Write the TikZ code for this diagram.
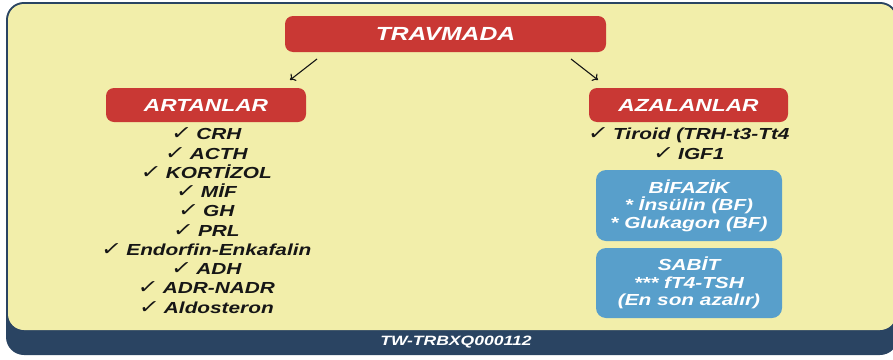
\documentclass[tikz,border=0pt]{standalone}
\usepackage{fontspec}
\setmainfont{Liberation Sans}[FakeStretch=1.3]
\newfontfamily\ckfont{DejaVu Sans}[FakeStretch=1.25,FakeSlant=0.15]
\usetikzlibrary{arrows.meta}
\definecolor{navy}{HTML}{2A4462}
\definecolor{bgyellow}{HTML}{F2EEAA}
\definecolor{hdred}{HTML}{C93834}
\definecolor{boxblue}{HTML}{589FCB}
\definecolor{txtblack}{HTML}{161616}
\newcommand\chk{{\ckfont\bfseries\fontsize{19}{19}\selectfont ✓}}
\begin{document}
\begin{tikzpicture}[x=1pt,y=-1pt,
  redbox/.style={fill=hdred, rounded corners=8pt, inner sep=0pt, text=white,
    font=\fontsize{17.5}{20}\selectfont\bfseries\itshape},
  bluebox/.style={fill=boxblue, rounded corners=10pt, inner sep=0pt, text=white,
    minimum width=186pt, minimum height=71pt, align=center,
    font=\fontsize{16}{17.6}\selectfont\bfseries\itshape},
  listtext/.style={text=txtblack, align=center, inner sep=0pt,
    font=\fontsize{16}{19.25}\selectfont\bfseries\itshape},
  arr/.style={draw=txtblack, line width=1.1pt, -{To[length=5pt,width=9pt]}}]
\useasboundingbox (0,0) rectangle (893,359);
% frame
\fill[navy, rounded corners=18pt] (6,2) rectangle (898,355);
\fill[bgyellow, rounded corners=16pt] (8,4) rectangle (896,330);
% headers
\node[redbox, minimum width=321pt, minimum height=36pt, font=\fontsize{19}{20}\selectfont\bfseries\itshape] (trav) at (445.5,34) {TRAVMADA};
\node[redbox, minimum width=200pt, minimum height=34pt] (art) at (206,105) {ARTANLAR};
\node[redbox, minimum width=199pt, minimum height=34pt] (aza) at (688.5,105) {AZALANLAR};
% arrows
\coordinate (a1s) at (317,59);
\coordinate (a1e) at (290,80);
\coordinate (a2s) at (571,59);
\coordinate (a2e) at (598,80);
\draw[arr] (a1s) -- (a1e);
\draw[arr] (a2s) -- (a2e);
% lists
\node[listtext] (artlist) at (206,220.5) {\chk\ CRH\\ \chk\ ACTH\\ \chk\ KORTİZOL\\ \chk\ MİF\\ \chk\ GH\\ \chk\ PRL\\ \chk\ Endorfin-Enkafalin\\ \chk\ ADH\\ \chk\ ADR-NADR\\ \chk\ Aldosteron};
\node[listtext] (azalist) at (688.5,143.5) {\chk\ Tiroid (TRH-t3-Tt4\\ \chk\ IGF1};
% blue boxes
\node[bluebox, minimum height=71pt] (bif) at (689,205.5) {BİFAZİK\\ * İnsülin (BF)\\ * Glukagon (BF)};
\node[bluebox, minimum height=70pt] (sab) at (689,283) {SABİT\\ *** fT4-TSH\\ (En son azalır)};
% footer
\node[text=white, inner sep=0pt, font=\fontsize{13.5}{15}\selectfont\bfseries\itshape] (foot) at (456,342.5) {TW-TRBXQ000112};
\end{tikzpicture}
\end{document}
